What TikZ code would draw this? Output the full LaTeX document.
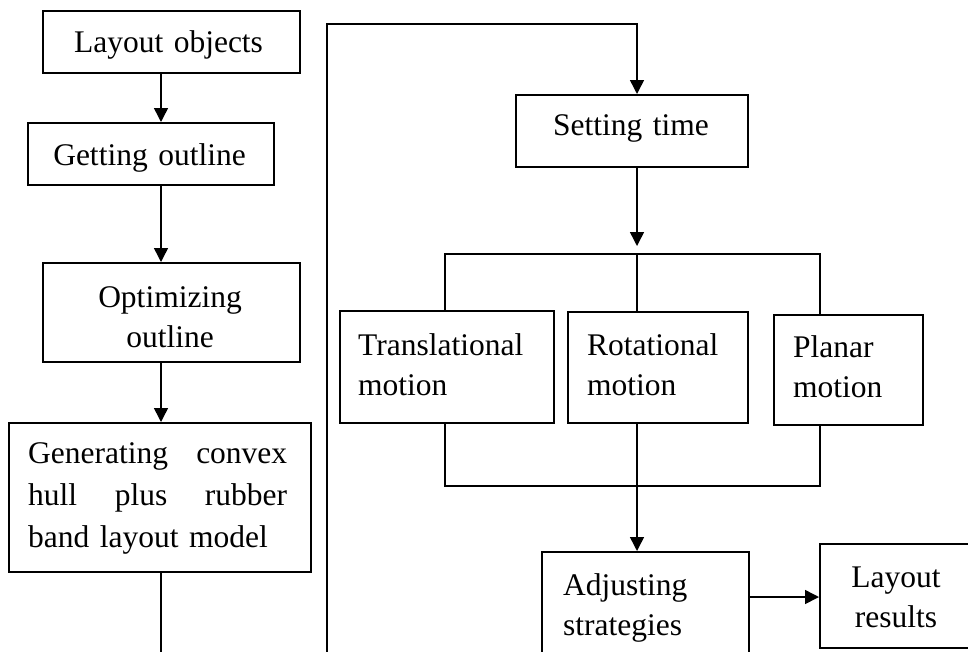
\documentclass[tikz,border=0pt]{standalone}
\usepackage{fontspec}
\setmainfont{Liberation Serif}
\usetikzlibrary{arrows.meta}
% stretch that wins over the ragged-right glue: spreads a line edge to edge
\newcommand\spreadgap{\hskip 0pt plus 1filll\relax}
\begin{document}
\begin{tikzpicture}[x=1pt,y=-1pt,
  box/.style={draw, line width=1.5pt, inner sep=0pt, anchor=north west},
  txt/.style={font=\fontsize{31.5}{40}\selectfont, inner sep=0pt},
  txtc/.style={txt, anchor=base, align=center},
  txtl/.style={txt, anchor=base west, align=left},
  wire/.style={line width=1.5pt},
  flow/.style={wire, -{Triangle[width=14pt,length=14pt]}}]

\useasboundingbox (0,0) rectangle (968,651);
\clip (0,0) rectangle (968,651);

% ---- left column ----
\node[box, minimum width=257pt, minimum height=62pt]  (lo)  at (42,10)  {};
\node[box, minimum width=246pt, minimum height=62pt]  (go)  at (27,122) {};
\node[box, minimum width=257pt, minimum height=99pt]  (oo)  at (42,262) {};
\node[box, minimum width=302pt, minimum height=149pt] (gen) at (8,422)  {};

\node[txtc, text width=230pt] (t-lo)  at (168.5,52) {Layout objects};
\node[txtc, text width=230pt] (t-go)  at (149.5,165) {Getting outline};
\node[txtc, text width=230pt] (t-oo)  at (170,307) {Optimizing\\outline};
\node[txtl, text width=259pt, font=\fontsize{31.5}{42}\selectfont] (t-gen) at (28,463)
  {Generating\spreadgap convex\\hull\spreadgap plus\spreadgap rubber\\band layout model};

% ---- right part ----
\node[box, minimum width=232pt, minimum height=72pt]  (st)  at (515,94)  {};
\node[box, minimum width=214pt, minimum height=112pt] (tr)  at (339,310) {};
\node[box, minimum width=180pt, minimum height=111pt] (ro)  at (567,311) {};
\node[box, minimum width=149pt, minimum height=110pt] (pl)  at (773,314) {};
\node[box, minimum width=207pt, minimum height=108pt] (adj) at (541,551) {};
\node[box, minimum width=154pt, minimum height=104pt] (lr)  at (819,543) {};

\node[txtc, text width=200pt] (t-st)  at (631,135) {Setting time};
\node[txtl, text width=176pt] (t-tr)  at (358,355) {Translational\\motion};
\node[txtl, text width=140pt] (t-ro)  at (587,355) {Rotational\\motion};
\node[txtl, text width=109pt] (t-pl)  at (793,357) {Planar\\motion};
\node[txtl, text width=163pt] (t-adj) at (563,595) {Adjusting\\strategies};
\node[txtc, text width=130pt] (t-lr)  at (896,587) {Layout\\results};

% ---- routing points ----
\coordinate (sL)    at (161,0);
\coordinate (cutL)  at (161,690);
\coordinate (cutR)  at (327,690);
\coordinate (stIn)  at (637,24);
\coordinate (tip)   at (637,246);
\coordinate (bt1)   at (445,254);
\coordinate (bt2)   at (637,254);
\coordinate (bt3)   at (820,254);
\coordinate (bb1)   at (445,486);
\coordinate (bb2)   at (637,486);
\coordinate (bb3)   at (820,486);
\coordinate (ar)    at (0,597);

% ---- connectors ----
\draw[flow] (lo.south -| sL) -- (go.north -| sL);
\draw[flow] (go.south -| sL) -- (oo.north -| sL);
\draw[flow] (oo.south -| sL) -- (gen.north -| sL);
\draw[flow] (gen.south -| sL) -- (cutL) -- (cutR) |- (stIn) -- (st.north -| stIn);

\draw[flow] (st.south -| tip) -- (tip);
\draw[wire] (tr.north -| bt1) -- (bt1) -- (bt3) -- (pl.north -| bt3);
\draw[wire] (bt2) -- (ro.north -| bt2);

\draw[wire] (tr.south -| bb1) -- (bb1) -- (bb3) -- (pl.south -| bb3);
\draw[wire] (ro.south -| bb2) -- (bb2);
\draw[flow] (bb2) -- (adj.north -| bb2);

\draw[flow] (adj.east |- ar) -- (lr.west |- ar);
\end{tikzpicture}
\end{document}
